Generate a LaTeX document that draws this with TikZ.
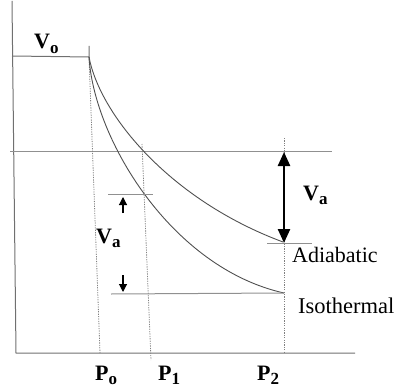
\documentclass[tikz,border=0pt]{standalone}
\usepackage{fontspec}
\setmainfont{Liberation Serif}
\usetikzlibrary{arrows.meta}
\definecolor{axisgray}{HTML}{707070}
\definecolor{linegray}{HTML}{909090}
\definecolor{curvegray}{HTML}{505050}
\definecolor{dotgray}{HTML}{808080}
\newcommand{\lowsub}[1]{\raisebox{-0.22em}{\fontsize{17}{17}\selectfont #1}}
\tikzset{
  axisline/.style={draw=axisgray, line width=1pt},
  guideline/.style={draw=linegray, line width=1pt},
  curveline/.style={draw=curvegray, line width=0.9pt},
  dotline/.style={draw=dotgray, line width=0.8pt, dash pattern=on 1.2pt off 1.2pt},
  boldlbl/.style={anchor=base west, inner sep=0pt, font=\fontsize{22}{22}\selectfont\bfseries},
  reglbl/.style={anchor=base west, inner sep=0pt, font=\fontsize{22}{22}\selectfont},
  smallarrow/.style={draw=black, line width=1.1pt, -{Triangle[width=8pt,length=8pt]}},
  bigarrow/.style={draw=black, line width=2.4pt, {Triangle[width=12pt,length=14pt]}-{Triangle[width=12pt,length=14pt]}}
}
\begin{document}
\begin{tikzpicture}[x=1pt,y=-1pt]
\useasboundingbox (0,0) rectangle (403,390);
% axes
\coordinate (ytop) at (12,1);
\coordinate (orig) at (16,353);
\coordinate (xend) at (355,353);
\draw[axisline] (ytop) -- (orig) -- (xend);
% V_o level
\coordinate (v0l) at (12,56);
\coordinate (start) at (89,57);
\coordinate (tick) at (89,46);
\draw[axisline] (v0l) -- (start) -- (tick);
% V_a level line
\coordinate (hl) at (10,151);
\coordinate (hr) at (332,151);
\draw[guideline] (hl) -- (hr);
% dotted verticals
\coordinate (d0b) at (100,353);
\coordinate (d1t) at (142,144);
\coordinate (d1b) at (151,360);
\coordinate (d2t) at (284,138);
\coordinate (d2b) at (284,353);
\draw[dotline] (start) -- (d0b);
\draw[dotline] (d1t) -- (d1b);
\draw[dotline] (d2t) -- (d2b);
% curves
\coordinate (adend) at (283,242);
\coordinate (isend) at (284,293);
\draw[curveline] (start) .. controls (100,115) and (170,200) .. (adend);
\draw[curveline] (start) .. controls (94,140) and (172,268) .. (isend);
% short lines
\coordinate (s1l) at (108,194);
\coordinate (s1r) at (153,194);
\coordinate (s2l) at (267,243);
\coordinate (s2r) at (312,243);
\coordinate (isl) at (111,294);
\draw[guideline] (s1l) -- (s1r);
\draw[guideline] (s2l) -- (s2r);
\draw[guideline] (isl) -- (isend);
% arrows
\coordinate (ua1) at (123,213);
\coordinate (ua2) at (123,197);
\coordinate (da1) at (123,275);
\coordinate (da2) at (123,292);
\draw[smallarrow] (ua1) -- (ua2);
\draw[smallarrow] (da1) -- (da2);
\coordinate (ba1) at (284,152);
\coordinate (ba2) at (284,243);
\draw[bigarrow] (ba1) -- (ba2);
% labels
\node[boldlbl] (lv0) at (34,49) {V\lowsub{o}};
\node[boldlbl] (lvar) at (303,200) {V\lowsub{a}};
\node[boldlbl] (lval) at (96,243) {V\lowsub{a}};
\node[reglbl] (ladia) at (292,262) {Adiabatic};
\node[reglbl, font=\fontsize{22.5}{22.5}\selectfont] (liso) at (298,313) {Isothermal};
\node[boldlbl] (lp0) at (95,380) {P\lowsub{o}};
\node[boldlbl] (lp1) at (158,380) {P\lowsub{1}};
\node[boldlbl] (lp2) at (257,380) {P\lowsub{2}};
\end{tikzpicture}
\end{document}
